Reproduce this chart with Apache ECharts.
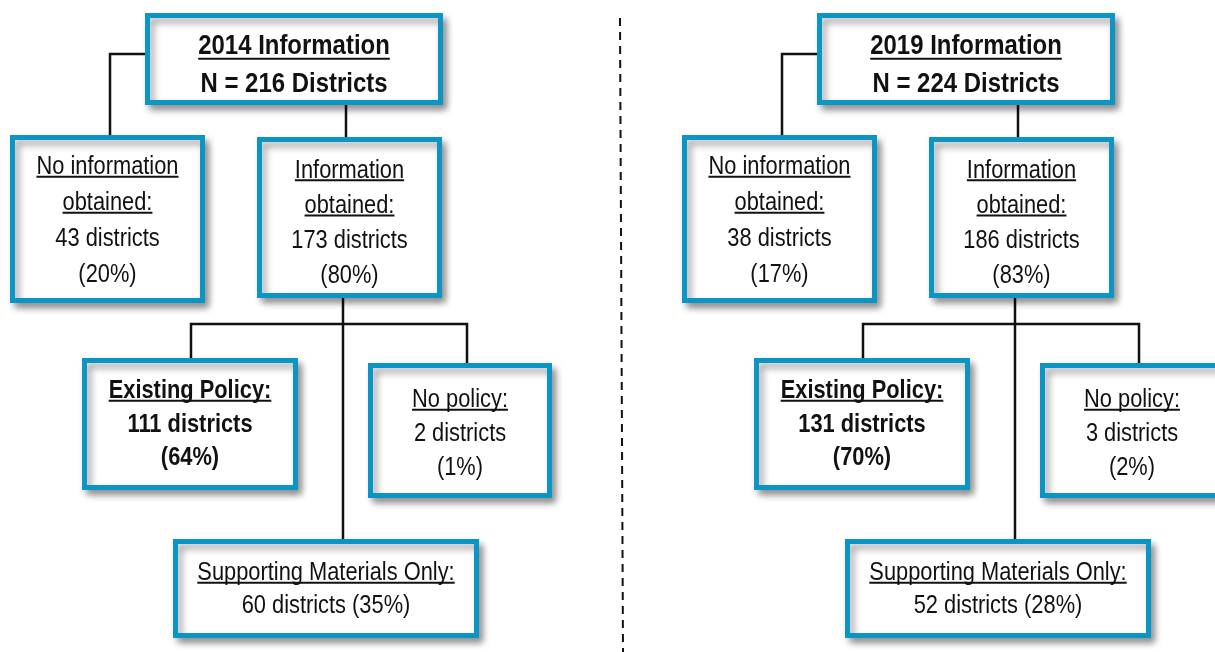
<!DOCTYPE html>
<html>
<head>
<meta charset="utf-8">
<script src="https://cdn.jsdelivr.net/npm/echarts@6/dist/echarts.min.js"></script>
<style>
  html, body { margin: 0; padding: 0; background: #fff; }
  #chart { width: 1215px; height: 652px; }
</style>
</head>
<body>
<div id="chart"></div>
<script>
// values
const years = ['2014', '2019'];
const totalDistricts = [216, 224];
const noInfoCount = [43, 38];
const noInfoPct = [20, 17];
const infoCount = [173, 186];
const infoPct = [80, 83];
const policyCount = [111, 131];
const policyPct = [64, 70];
const noPolicyCount = [2, 3];
const noPolicyPct = [1, 2];
const supportCount = [60, 52];
const supportPct = [35, 28];

// layout of the left panel (pixel frame), the right one is shifted
const panelShift = [0, 672];
const boxLayout = {
  top: [145, 13, 443, 105],
  noInfo: [10, 135, 205, 303],
  info: [257, 137, 442, 298],
  policy: [82, 358, 298, 490],
  noPolicy: [368, 363, 552, 498],
  support: [173, 539, 479, 638]
};
// first text line (cap middle) and line gap per box
const textLayout = {
  top: [43, 38],
  noInfo: [164, 36],
  info: [167.5, 35.2],
  policy: [388, 33.5],
  noPolicy: [397, 34],
  support: [570, 33]
};
const linkLayout = [
  [[145, 54], [110, 54], [110, 137]],
  [[346, 105], [346, 139]],
  [[343, 298], [343, 541]],
  [[191, 360], [191, 324], [467, 324], [467, 365]]
];

const FONT = '"Liberation Sans", Arial, sans-serif';
const SQUEEZE = 0.84; // narrow look
const BLUE = '#0a95c5';

function boxLines(key, p) {
  switch (key) {
    case 'top':
      return [{ t: years[p] + ' Information', b: 1, u: 1 }, { t: 'N = ' + totalDistricts[p] + ' Districts', b: 1 }];
    case 'noInfo':
      return [{ t: 'No information', u: 1 }, { t: 'obtained:', u: 1 }, { t: noInfoCount[p] + ' districts' }, { t: '(' + noInfoPct[p] + '%)' }];
    case 'info':
      return [{ t: 'Information', u: 1 }, { t: 'obtained:', u: 1 }, { t: infoCount[p] + ' districts' }, { t: '(' + infoPct[p] + '%)' }];
    case 'policy':
      return [{ t: 'Existing Policy:', b: 1, u: 1 }, { t: policyCount[p] + ' districts', b: 1 }, { t: '(' + policyPct[p] + '%)', b: 1 }];
    case 'noPolicy':
      return [{ t: 'No policy:', u: 1 }, { t: noPolicyCount[p] + ' districts' }, { t: '(' + noPolicyPct[p] + '%)' }];
    case 'support':
      return [{ t: 'Supporting Materials Only:', u: 1 }, { t: supportCount[p] + ' districts (' + supportPct[p] + '%)' }];
  }
}

const boxes = [];
const boxData = [];
years.forEach((y, p) => {
  Object.keys(boxLayout).forEach((key) => {
    const r = boxLayout[key];
    const dx = panelShift[p];
    boxes.push({ key: key, lines: boxLines(key, p) });
    boxData.push([r[0] + dx, r[1], r[2] + dx, r[3], boxes.length - 1]);
  });
});

const linkData = [];
years.forEach((y, p) => {
  linkLayout.forEach((pts) => {
    linkData.push(pts.map((pt) => [pt[0] + panelShift[p], pt[1]]));
  });
});
const linkRows = linkData.map((pts, i) => [pts[0][0], pts[0][1], i]);

const measureCtx = document.createElement('canvas').getContext('2d');
function textWidth(text, font) {
  measureCtx.font = font;
  return measureCtx.measureText(text).width;
}

function renderBox(params, api) {
  const p1 = api.coord([api.value(0), api.value(1)]);
  const p2 = api.coord([api.value(2), api.value(3)]);
  const box = boxes[api.value(4)];
  const bw = 5;
  const children = [{
    type: 'rect',
    shape: { x: p1[0] + bw / 2, y: p1[1] + bw / 2, width: p2[0] - p1[0] - bw, height: p2[1] - p1[1] - bw },
    style: {
      fill: '#fff', stroke: BLUE, lineWidth: bw,
      shadowBlur: 7, shadowOffsetX: 4, shadowOffsetY: 5, shadowColor: 'rgba(0,0,0,0.38)'
    }
  }];
  const isTop = box.key === 'top';
  const size = isTop ? 28.5 : 26;
  const tl = textLayout[box.key];
  const cx = (p1[0] + p2[0]) / 2;
  box.lines.forEach((ln, i) => {
    const capMid = api.coord([0, tl[0] + i * tl[1]])[1];
    const font = (ln.b ? 'bold ' : '') + size + 'px ' + FONT;
    children.push({
      type: 'text',
      x: cx,
      y: capMid - 0.39 * size,
      scaleX: SQUEEZE,
      style: { text: ln.t, x: 0, y: 0, font: font, fill: '#111', align: 'center', verticalAlign: 'top' }
    });
    if (ln.u) {
      const w = textWidth(ln.t, font) * SQUEEZE;
      const uy = capMid + 0.358 * size + (isTop ? 5.5 : 3.5);
      children.push({
        type: 'line',
        shape: { x1: cx - w / 2, y1: uy, x2: cx + w / 2, y2: uy },
        style: { stroke: '#111', lineWidth: 2 }
      });
    }
  });
  return { type: 'group', children: children };
}

function renderLink(params, api) {
  const pts = linkData[api.value(2)].map((pt) => api.coord(pt));
  return {
    type: 'polyline',
    shape: { points: pts },
    style: { stroke: '#111', lineWidth: 2.5, fill: null }
  };
}

const chart = echarts.init(document.getElementById('chart'), null, { renderer: 'canvas' });
chart.setOption({
  animation: false,
  backgroundColor: '#fff',
  grid: { left: 0, right: 0, top: 0, bottom: 0 },
  xAxis: { type: 'value', min: 0, max: 1215, show: false },
  yAxis: { type: 'value', min: 0, max: 652, inverse: true, show: false },
  series: [
    {
      type: 'line',
      data: [[620, 18], [623, 652]],
      symbol: 'none',
      z: 1,
      lineStyle: { color: '#111', width: 2, type: [8, 6] }
    },
    {
      type: 'custom',
      z: 2,
      renderItem: renderLink,
      data: linkRows
    },
    {
      type: 'custom',
      z: 3,
      renderItem: renderBox,
      data: boxData
    }
  ]
});
</script>
</body>
</html>
